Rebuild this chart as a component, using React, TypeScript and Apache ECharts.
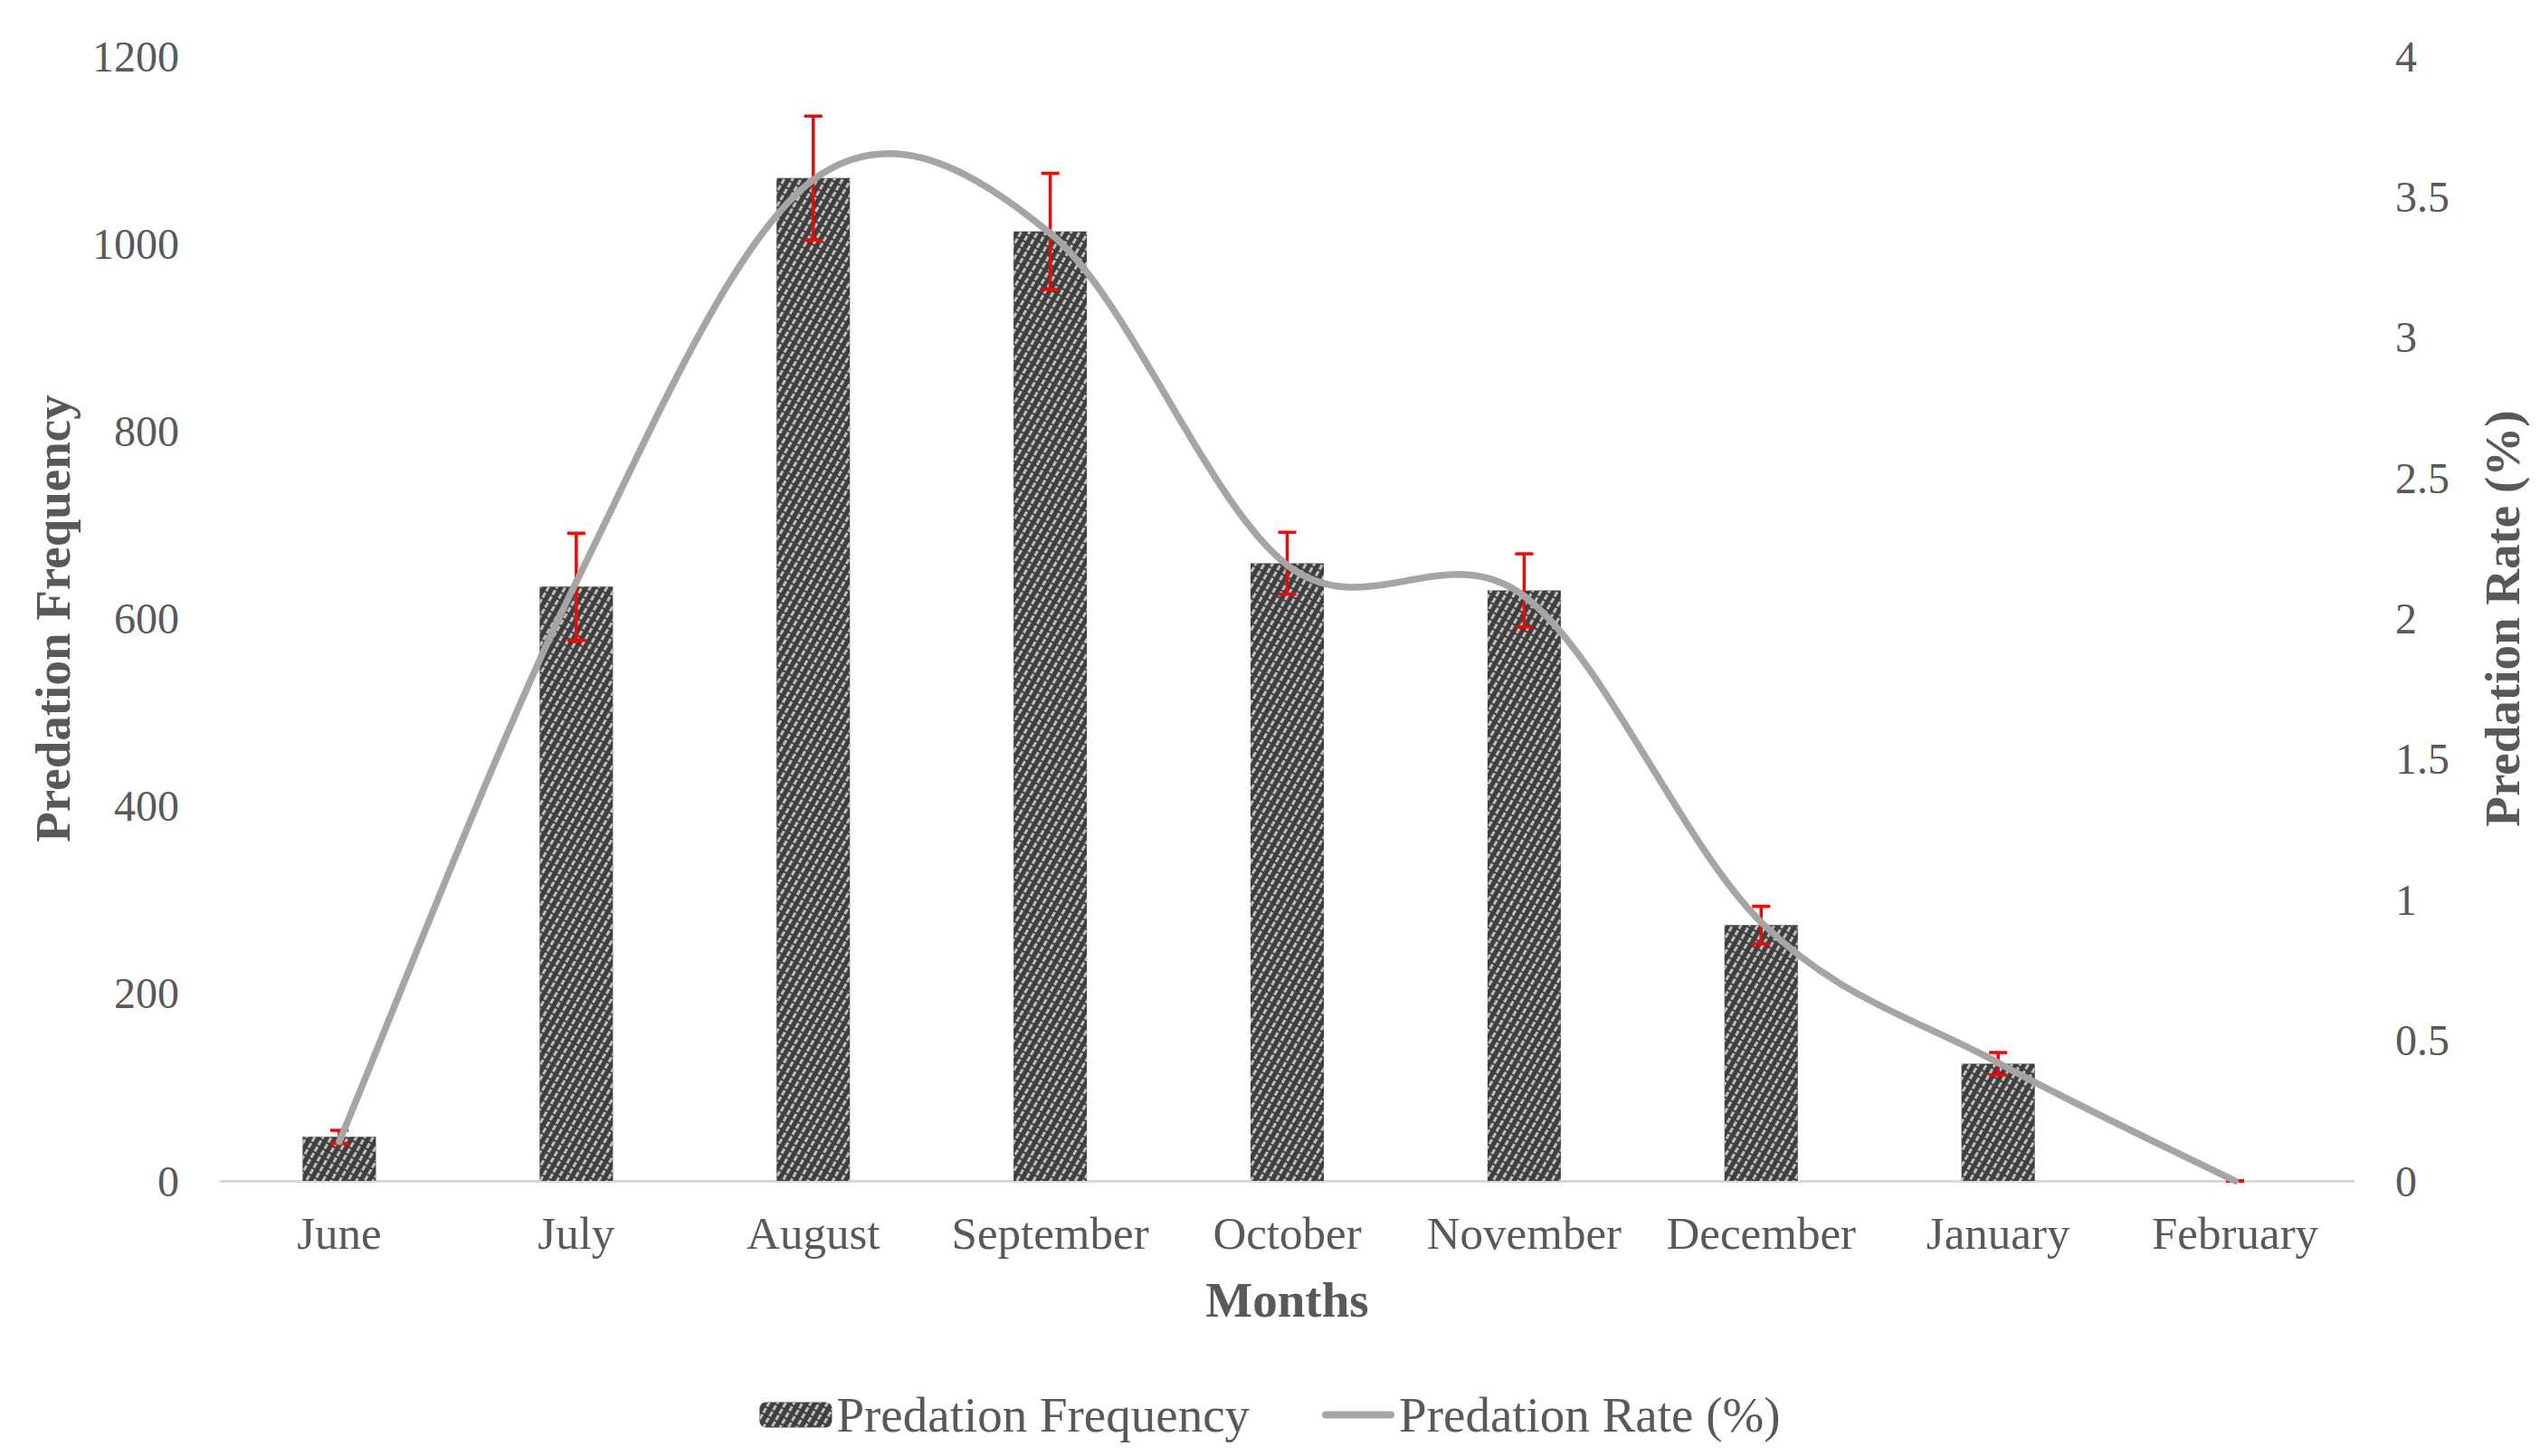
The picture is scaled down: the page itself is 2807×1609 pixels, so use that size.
import React, { useEffect, useRef } from "react";
import * as echarts from "echarts";

const months = ["June", "July", "August", "September", "October", "November", "December", "January", "February"];
const frequency = [47, 634, 1070, 1013, 659, 630, 273, 125, 0];
const frequencyError = [7, 57, 66, 62, 33, 39, 20, 12, 0];
const rate = [0.14, 2.13, 3.56, 3.37, 2.19, 2.08, 0.92, 0.42, 0];

const leftTicks = { min: 0, max: 1200, interval: 200 };
const rightTicks = { min: 0, max: 4, interval: 0.5 };

const FONT = '"Liberation Serif", "Times New Roman", serif';
const TEXT = "#595959";
const LINE = "#A5A5A5";

export default function App() {
  const ref = useRef<HTMLDivElement>(null);
  useEffect(() => {
    document.body.style.margin = "0";
    const chart = echarts.init(ref.current!, null, { renderer: "svg" });
    const errData = months.map((_, i) => [i, frequency[i] - frequencyError[i], frequency[i] + frequencyError[i]]);
    const rateData = rate.map((r, i) => [i, r]);
    chart.setOption({
      animation: false,
      backgroundColor: "#ffffff",
      textStyle: { fontFamily: FONT },
      grid: { left: 244, right: 206, top: 62, bottom: 304, containLabel: false },
      legend: {
        data: [
          { name: "Predation Frequency" },
          { name: "Predation Rate (%)", icon: "path://M4 0H76A4 4 0 0 1 76 8H4A4 4 0 0 1 4 0Z", itemStyle: { color: LINE } },
        ],
        left: "center",
        top: 1531,
        itemWidth: 80,
        itemHeight: 28,
        itemGap: 80,
        textStyle: { fontFamily: FONT, fontSize: 55, color: TEXT },
      },
      xAxis: {
        type: "category",
        data: months,
        name: "Months",
        nameLocation: "middle",
        nameGap: 104,
        nameTextStyle: { fontFamily: FONT, fontSize: 55, fontWeight: "bold", color: TEXT },
        axisLine: { show: true, lineStyle: { color: "#D9D9D9", width: 3 } },
        axisTick: { show: false },
        axisLabel: { fontFamily: FONT, fontSize: 51, color: TEXT, margin: 32, interval: 0 },
        splitLine: { show: false },
      },
      yAxis: [
        {
          type: "value",
          ...leftTicks,
          name: "Predation Frequency",
          nameLocation: "middle",
          nameGap: 158,
          nameTextStyle: { fontFamily: FONT, fontSize: 55, fontWeight: "bold", color: TEXT },
          axisLine: { show: false },
          axisTick: { show: false },
          splitLine: { show: false },
          axisLabel: { fontFamily: FONT, fontSize: 48, color: TEXT, margin: 46, formatter: (v: number) => String(v) },
        },
        {
          type: "value",
          ...rightTicks,
          name: "Predation Rate (%)",
          nameLocation: "middle",
          nameGap: 137,
          nameRotate: 90,
          nameTextStyle: { fontFamily: FONT, fontSize: 55, fontWeight: "bold", color: TEXT },
          axisLine: { show: false },
          axisTick: { show: false },
          splitLine: { show: false },
          axisLabel: { fontFamily: FONT, fontSize: 48, color: TEXT, margin: 46, formatter: (v: number) => String(v) },
        },
      ],
      series: [
        {
          name: "Predation Frequency",
          type: "bar",
          data: frequency,
          barWidth: 81,
          yAxisIndex: 0,
          z: 2,
          itemStyle: {
            color: "#3F3F3F",
            decal: {
              symbol: "rect",
              symbolSize: 1,
              dashArrayX: [6, 2],
              dashArrayY: [2.5, 4.5],
              rotation: -Math.PI / 3,
              color: "#BDBDBD",
            },
          },
        },
        {
          name: "errors",
          type: "custom",
          yAxisIndex: 0,
          z: 3,
          data: errData,
          encode: { x: 0, y: [1, 2] },
          renderItem: (params: any, api: any) => {
            const x = api.value(0);
            const lo = api.value(1);
            const hi = api.value(2);
            const pLo = api.coord([x, lo]);
            const pHi = api.coord([x, hi]);
            const cap = 10;
            const style = { stroke: "#FF0000", lineWidth: 3.5 };
            return {
              type: "group",
              children: [
                { type: "line", shape: { x1: pHi[0], y1: pHi[1], x2: pLo[0], y2: pLo[1] }, style },
                { type: "line", shape: { x1: pHi[0] - cap, y1: pHi[1], x2: pHi[0] + cap, y2: pHi[1] }, style },
                { type: "line", shape: { x1: pLo[0] - cap, y1: pLo[1], x2: pLo[0] + cap, y2: pLo[1] }, style },
              ],
            };
          },
        },
        {
          name: "Predation Rate (%)",
          type: "custom",
          yAxisIndex: 1,
          z: 4,
          data: rateData,
          encode: { x: 0, y: 1 },
          itemStyle: { color: LINE },
          renderItem: (params: any, api: any) => {
            const i = params.dataIndex;
            const n = rate.length;
            if (i >= n - 1) return { type: "group", children: [] };
            const pt = (j: number) => {
              const k = Math.max(0, Math.min(n - 1, j));
              return api.coord([k, rate[k]]);
            };
            const p0 = pt(i - 1);
            const p1 = pt(i);
            const p2 = pt(i + 1);
            const p3 = pt(i + 2);
            return {
              type: "bezierCurve",
              shape: {
                x1: p1[0],
                y1: p1[1],
                x2: p2[0],
                y2: p2[1],
                cpx1: p1[0] + (p2[0] - p0[0]) / 6,
                cpy1: p1[1] + (p2[1] - p0[1]) / 6,
                cpx2: p2[0] - (p3[0] - p1[0]) / 6,
                cpy2: p2[1] - (p3[1] - p1[1]) / 6,
              },
              style: { stroke: LINE, lineWidth: 7.5, fill: null, lineCap: "round" },
            };
          },
        },
      ],
    });
    return () => chart.dispose();
  }, []);
  return <div ref={ref} style={{ width: 2807, height: 1609 }} />;
}
